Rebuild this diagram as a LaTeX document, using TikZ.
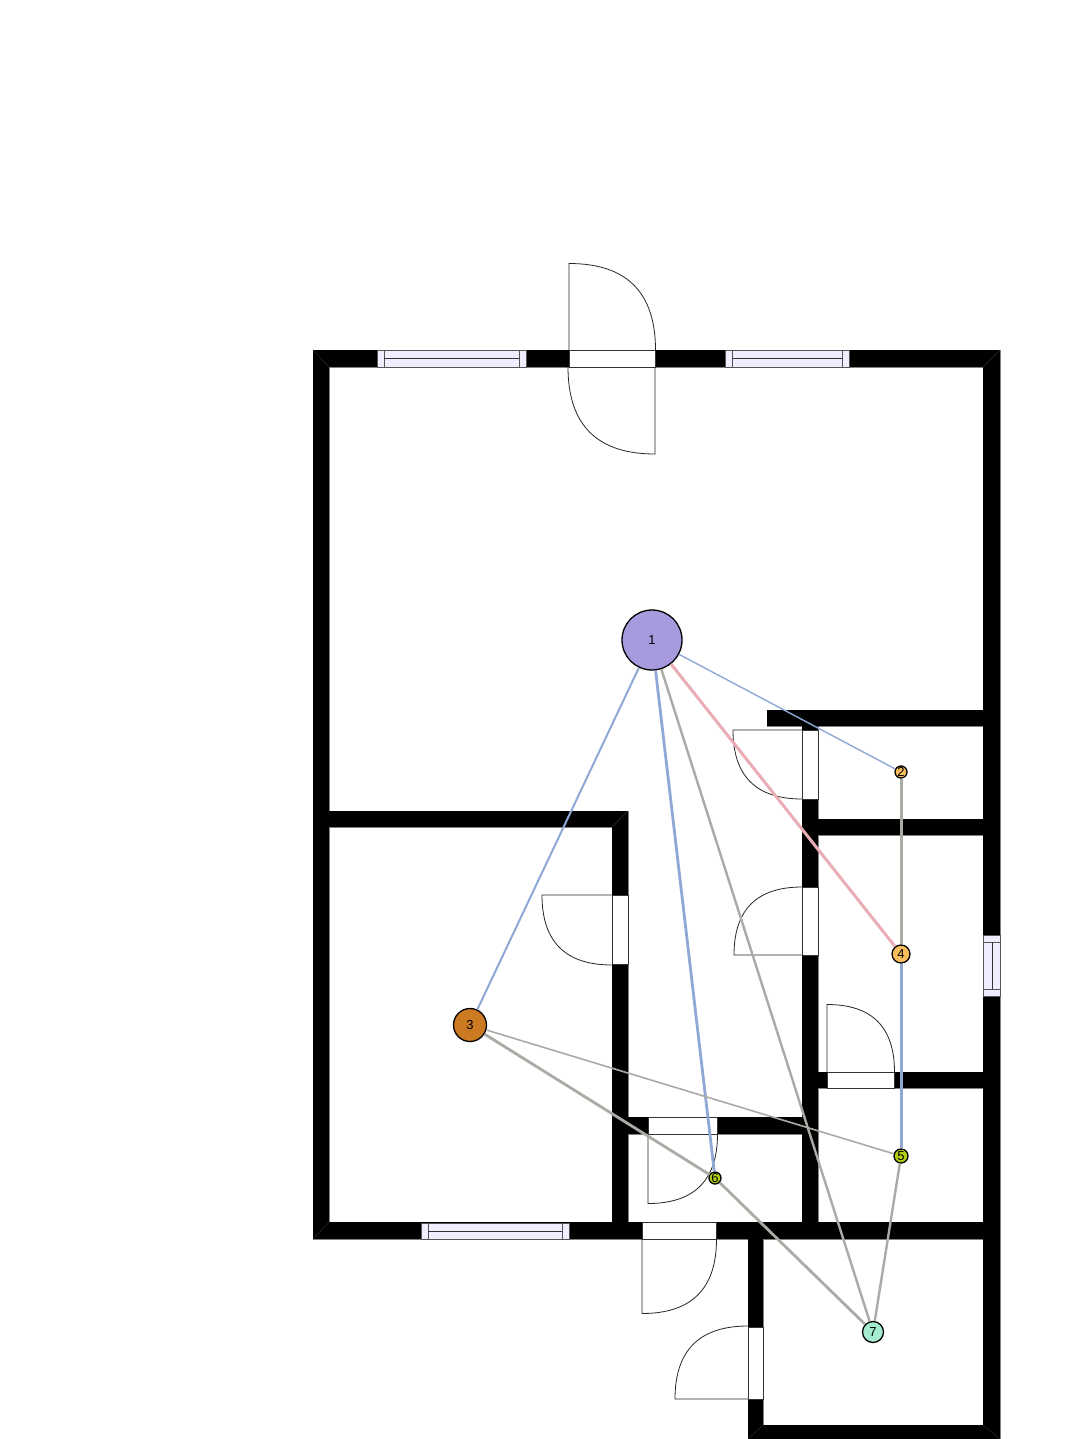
\documentclass[tikz,border=0pt]{standalone}
\usepackage{fontspec}
\setmainfont{Liberation Sans}
\definecolor{planWindow}{HTML}{EEEEFF}
\definecolor{planEdge}{HTML}{555555}
\definecolor{planMitre}{HTML}{333333}
\definecolor{linkBlue}{HTML}{8FA8D6}
\definecolor{linkPink}{HTML}{EBADB5}
\definecolor{linkGrey}{HTML}{ABABA6}
\definecolor{roomPurple}{HTML}{A89BDD}
\definecolor{roomAmber}{HTML}{F9BE5C}
\definecolor{roomOrange}{HTML}{CC7A22}
\definecolor{roomLime}{HTML}{B4CF12}
\definecolor{roomMint}{HTML}{A5EBD0}
\tikzset{
  wallline/.style={draw=black!50, line width=0.8pt},
  wall/.style={fill=black, draw=none},
  doorframe/.style={fill=white, draw=black!80, line width=0.8pt},
  doorleaf/.style={draw=black!85, line width=0.8pt},
  windowframe/.style={fill=planWindow, draw=planEdge, line width=0.8pt},
  room/.style={circle, draw=black, line width=1.3pt, inner sep=0pt, font=\fontsize{13}{13}\selectfont},
}

\begin{document}
\begin{tikzpicture}[x=1pt, y=-1pt]
  \useasboundingbox (0,0) rectangle (1085,1439);
  \filldraw[fill=white, draw=none] (0,0) rectangle (1085,1439);
  % walls
  \foreach \xa/\ya/\xb/\yb in {313/350/1000/367, 313/350/329/1239, 983/350/1000/1439, 313/1222/1000/1239,
      313/811/628/827, 612/811/628/1239, 612/1117/818/1134, 802/726/818/1239, 767/710/1000/726,
      802/819/1000/835, 818/1072/1000/1088, 748/1239/763/1439, 748/1425/1000/1439}
    \draw[wallline] (\xa,\ya) rectangle (\xb,\yb);
  \foreach \xa/\ya/\xb/\yb in {313/350/1000/367, 313/350/329/1239, 983/350/1000/1439, 313/1222/1000/1239,
      313/811/628/827, 612/811/628/1239, 612/1117/818/1134, 802/726/818/1239, 767/710/1000/726,
      802/819/1000/835, 818/1072/1000/1088, 748/1239/763/1439, 748/1425/1000/1439}
    \fill[wall] (\xa,\ya) rectangle (\xb,\yb);
  \foreach \xa/\ya/\xb/\yb in {313/350/329/367, 1000/350/983/367, 313/1239/329/1222, 628/811/612/827, 748/1439/763/1425, 1000/1439/983/1425}
    \draw[planMitre, line width=0.4pt] (\xa,\ya) -- (\xb,\yb);
  % doors
  \foreach \xa/\ya/\xb/\yb in {569/350/655/367, 802/730/818/799, 802/887/818/955, 612/895/628/964,
      827/1072/894/1088, 648/1117/717/1134, 642/1222/716/1239, 748/1327/763/1399}
    \filldraw[doorframe] (\xa,\ya) rectangle (\xb,\yb);
  \foreach \hx/\hy/\r/\a/\b in {569/350/86.5/270/360, 655/367/87/90/180, 802/730/69/180/90, 802/955/68/180/270,
      612/895/70/180/90, 827/1072/67.5/270/360, 648/1134/69.5/90/0, 642/1239/74.5/90/0, 748/1399/73/180/270}
    \draw[doorleaf] (\hx,\hy) -- ++(\a:\r) .. controls +(\b:\r*2/3) and +(\a:\r*2/3) .. ([shift={(\b:\r)}]\hx,\hy);
  % windows
  \foreach \xa/\xb/\ya/\yb in {377/526/350/367, 725/849/350/367, 421/569/1223/1239} {
    \filldraw[windowframe] (\xa,\ya) rectangle (\xb,\yb);
    \draw[planEdge, line width=0.8pt] (\xa+7,\ya) -- (\xa+7,\yb) (\xb-7,\ya) -- (\xb-7,\yb);
    \draw[black!80, line width=0.6pt] (\xa+7,{(\ya+\yb)/2}) -- (\xb-7,{(\ya+\yb)/2});
  }
  \filldraw[windowframe] (983,935) rectangle (1000,996);
  \draw[planEdge, line width=0.8pt] (983,942) -- (1000,942) (983,989) -- (1000,989);
  \draw[black!80, line width=0.6pt] (992,942) -- (992,989);
  % rooms
  \node[room, minimum size=60pt, fill=roomPurple] (R1) at (652,640) {1};
  \node[room, minimum size=12pt, fill=roomAmber] (R2) at (901,772) {2};
  \node[room, minimum size=33pt, fill=roomOrange] (R3) at (470,1025) {3};
  \node[room, minimum size=18pt, fill=roomAmber] (R4) at (901,954) {4};
  \node[room, minimum size=14pt, fill=roomLime] (R5) at (901,1156) {5};
  \node[room, minimum size=12pt, fill=roomLime] (R6) at (715,1178) {6};
  \node[room, minimum size=21pt, fill=roomMint] (R7) at (873,1332) {7};
  % links
  \draw[linkBlue, line width=1.4pt] (R1) -- (R2);
  \draw[linkBlue, line width=2pt] (R1) -- (R3);
  \draw[linkPink, line width=3pt] (R1) -- (R4);
  \draw[linkBlue, line width=2.8pt] (R1) -- (R6);
  \draw[linkGrey, line width=2.4pt] (R1) -- (R7);
  \draw[linkGrey, line width=3pt] (R2) -- (R4);
  \draw[linkBlue, line width=3pt] (R4) -- (R5);
  \draw[linkGrey, line width=1.6pt] (R3) -- (R5);
  \draw[linkGrey, line width=2.8pt] (R3) -- (R6);
  \draw[linkGrey, line width=2.8pt] (R6) -- (R7);
  \draw[linkGrey, line width=2.4pt] (R5) -- (R7);
\end{tikzpicture}
\end{document}
